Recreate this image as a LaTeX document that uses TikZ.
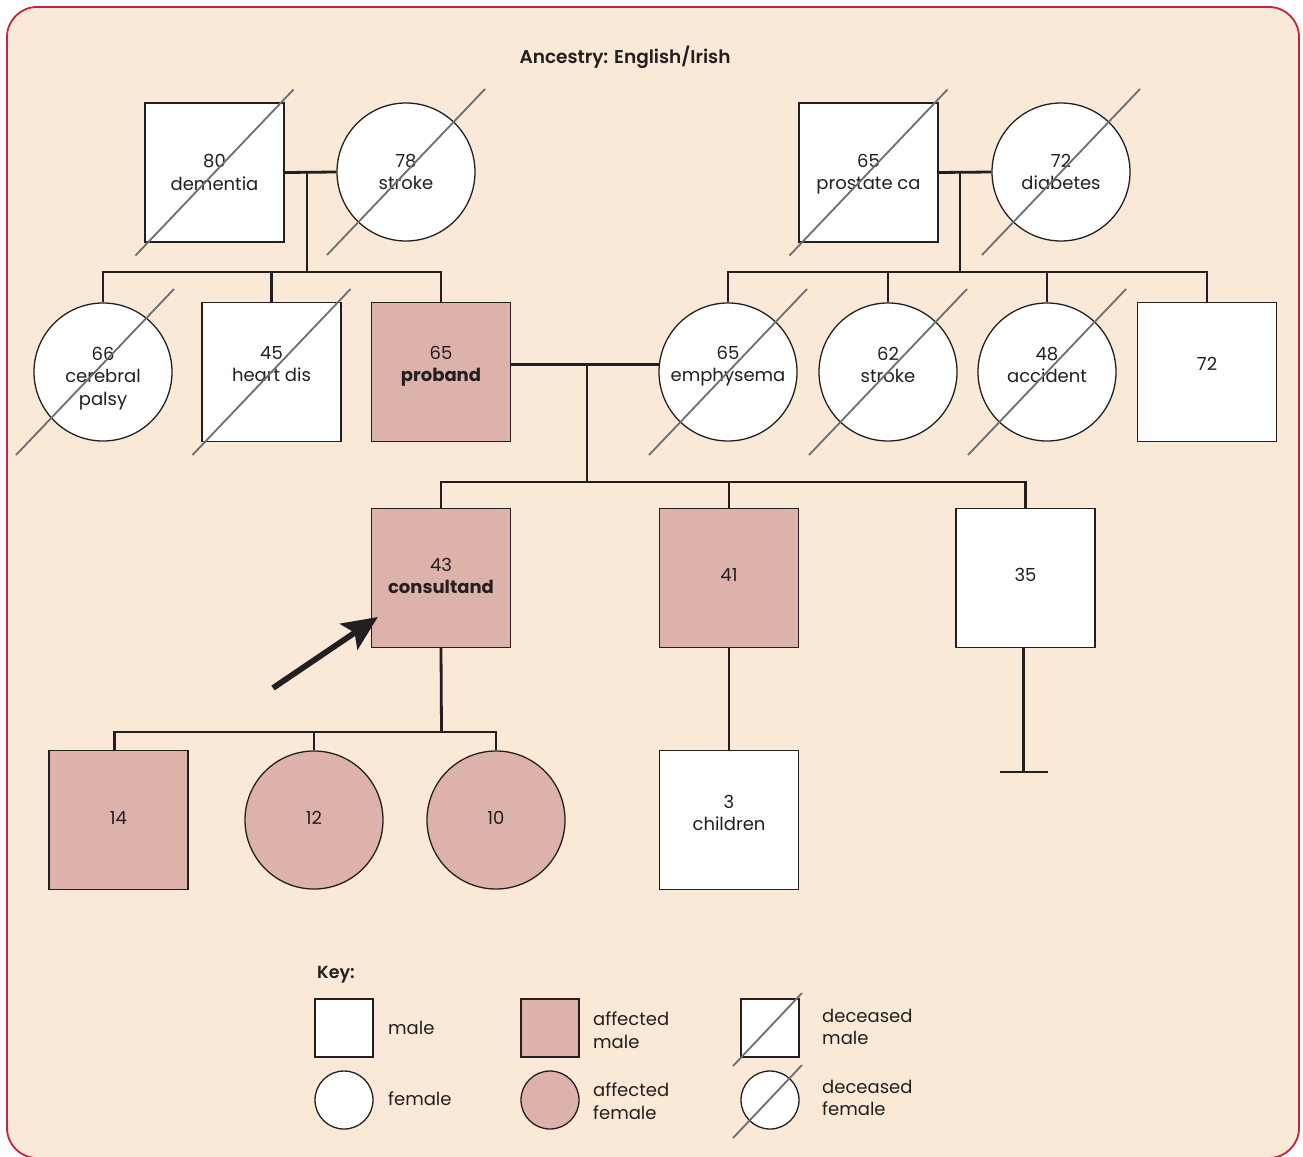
\documentclass[tikz,border=0pt]{standalone}
\usepackage{fontspec}
\setmainfont{Poppins}
\newfontfamily\medfont{Poppins SemiBold}
\usetikzlibrary{arrows.meta,calc}
\definecolor{bgc}{HTML}{F9E9D6}
\definecolor{affc}{HTML}{DDB2AB}
\definecolor{framec}{HTML}{C3243F}
\definecolor{linec}{HTML}{231F20}
\definecolor{decc}{HTML}{6D6E71}
\newcommand{\lblfont}{\fontsize{18}{22.5}\selectfont}
\newcommand{\pedtxt}[2]{\raisebox{#1}[0pt][0pt]{\begin{tabular}{@{}c@{}}#2\end{tabular}}}
\tikzset{
  male/.style={draw=linec, line width=1.3pt, fill=white, minimum size=139pt, inner sep=0pt, font=\lblfont, text=linec},
  female/.style={male, circle, minimum size=138pt},
  aff/.style={fill=affc},
  kmale/.style={draw=linec, line width=1.3pt, fill=white, minimum size=58pt, inner sep=0pt},
  kfemale/.style={kmale, circle},
  ped/.style={draw=linec, line width=2.8pt},
  dec/.style={draw=decc, line width=1.8pt},
  klabel/.style={anchor=west, align=left, font=\lblfont, text=linec, inner sep=0pt},
  arr/.style={draw=linec, fill=linec, line width=5.8pt, -{Stealth[length=35pt,width=31pt,inset=7pt]}}
}
\begin{document}
\begin{tikzpicture}[x=1pt,y=-1pt]
\useasboundingbox (0,0) rectangle (1303,1156);
\fill[white] (0,0) rectangle (1303,1156);
\draw[framec, line width=1.8pt, fill=bgc, rounded corners=30pt] (7,7) rectangle (1299,1158);

\node[font=\fontsize{18.5}{22}\selectfont\medfont, text=linec] (title) at (625,57) {Ancestry: English/Irish};

% Generation I
\node[male] (p80) at (214.5,172.5) {\pedtxt{-6.5pt}{80\\dementia}};
\node[female] (p78) at (406,172) {\pedtxt{-6.5pt}{78\\stroke}};
\node[male] (m65) at (868.5,172.5) {\pedtxt{-6pt}{65\\prostate ca}};
\node[female] (m72) at (1061,172) {\pedtxt{-6.5pt}{72\\diabetes}};

% Generation II
\node[female] (c66) at (103,372) {\pedtxt{-10.5pt}{66\\cerebral\\palsy}};
\node[male] (c45) at (271.5,372) {\pedtxt{1.5pt}{45\\heart dis}};
\node[male, aff] (pro) at (441,372) {\pedtxt{1.5pt}{65\\\textbf{proband}}};
\node[female] (e65) at (728,372) {\pedtxt{1.5pt}{65\\emphysema}};
\node[female] (s62) at (888,372) {\pedtxt{0.5pt}{62\\stroke}};
\node[female] (s48) at (1047,372) {\pedtxt{0.5pt}{48\\accident}};
\node[male] (s72) at (1207,372) {\pedtxt{1.5pt}{72}};

% Generation III
\node[male, aff] (g43) at (441,578) {\pedtxt{-4.5pt}{43\\\textbf{consultand}}};
\node[male, aff] (g41) at (729,578) {\pedtxt{-3.5pt}{41}};
\node[male] (g35) at (1025.5,578) {\pedtxt{-3.5pt}{35}};

% Generation IV
\node[male, aff] (k14) at (118.5,820) {\pedtxt{-4.5pt}{14}};
\node[female, aff] (k12) at (314,820) {\pedtxt{-4.5pt}{12}};
\node[female, aff] (k10) at (496,820) {\pedtxt{-4.5pt}{10}};
\node[male] (ch3) at (729,820) {\pedtxt{0.5pt}{3\\children}};

% deceased marks
\foreach \n in {p80,p78,m65,m72,c45,e65,s62,s48}
  \draw[dec] ([shift={(-79,83)}]\n.center) -- ([shift={(79,-83)}]\n.center);
\draw[dec] ([shift={(-87,83)}]c66.center) -- ([shift={(71,-83)}]c66.center);

% Gen I connectors
\coordinate (pj) at (307,172.5);
\coordinate (psib) at (307,272);
\draw[ped] (p80.east) -- (p78.west);
\draw[ped] (pj) -- (psib);
\draw[ped] (c66.north) |- (psib) -| (pro.north);
\draw[ped] (c45.north) -- (c45.north |- psib);

\coordinate (mj) at (960,172.5);
\coordinate (msib) at (960,272);
\draw[ped] (m65.east) -- (m72.west);
\draw[ped] (mj) -- (msib);
\draw[ped] (e65.north) |- (msib) -| (s72.north);
\draw[ped] (s62.north) -- (s62.north |- msib);
\draw[ped] (s48.north) -- (s48.north |- msib);

% Gen II marriage
\coordinate (gj) at (587,365);
\coordinate (gsib) at (587,482);
\draw[ped] (pro.east |- e65.174) -- (e65.174);
\draw[ped] (gj) -- (gsib);
\draw[ped] (g43.north) |- (gsib) -| (g35.north);
\draw[ped] (g41.north) -- (g41.north |- gsib);

% Gen III descendants
\coordinate (ncb) at (1023.5,772);
\draw[ped] (g35.south -| ncb) -- (ncb);
\draw[ped] ([xshift=-24]ncb) -- ([xshift=24]ncb);
\draw[ped] (g41.south -| ch3.north) -- (ch3.north);
\coordinate (ksib) at (441.5,732);
\draw[ped] (g43.south) -- (ksib);
\draw[ped] ([xshift=-4]k14.north) |- (ksib) -| (k10.north);
\draw[ped] (k12.north) -- (k12.north |- ksib);

% consultand arrow
\coordinate (arrs) at (273,688);
\draw[arr] (arrs) -- ([shift={(7,39)}]g43.west);

% Key
\node[font=\fontsize{17.5}{20}\selectfont\medfont, text=linec, anchor=west, inner sep=0pt] (keyt) at (317,975) {Key:};
\node[kmale] (km) at (344,1028) {};
\node[klabel] (kml) at (388,1028) {male};
\node[kfemale] (kf) at (344,1100) {};
\node[klabel] (kfl) at (388,1099) {female};
\node[kmale, aff] (kam) at (550,1028) {};
\node[klabel] (kaml) at (593,1030) {affected\\male};
\node[kfemale, aff] (kaf) at (550,1100) {};
\node[klabel] (kafl) at (593,1101) {affected\\female};
\node[kmale] (kdm) at (770,1028) {};
\node[klabel] (kdml) at (822,1027) {deceased\\male};
\node[kfemale] (kdf) at (770,1100) {};
\node[klabel] (kdfl) at (822,1098) {deceased\\female};
\draw[dec] ([shift={(-37,38)}]kdm.center) -- ([shift={(32,-35)}]kdm.center);
\draw[dec] ([shift={(-37,38)}]kdf.center) -- ([shift={(32,-35)}]kdf.center);
\end{tikzpicture}
\end{document}
